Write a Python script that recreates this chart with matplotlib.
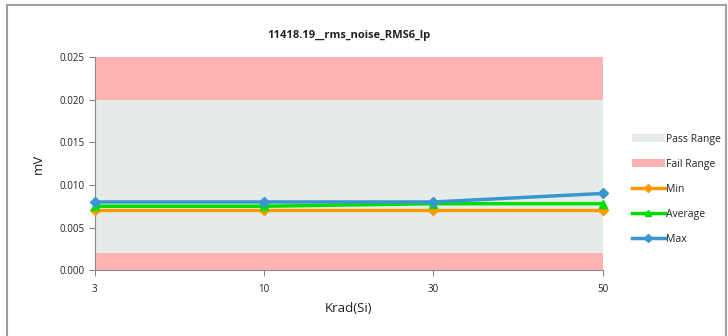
import matplotlib
matplotlib.use("Agg")
import matplotlib.pyplot as plt
from matplotlib.patches import Rectangle, Patch
from matplotlib.lines import Line2D

# === DATA ===
krad_labels = ["3", "10", "30", "50"]
min_vals = [0.0070, 0.0070, 0.0070, 0.0070]
avg_vals = [0.0075, 0.0075, 0.0078, 0.0078]
max_vals = [0.0080, 0.0080, 0.0080, 0.0090]
fail_low = [0.002, 0.002, 0.002, 0.002]
pass_high = [0.020, 0.020, 0.020, 0.020]
fail_high = [0.025, 0.025, 0.025, 0.025]
y_ticks = [0.000, 0.005, 0.010, 0.015, 0.020, 0.025]

PASS_C = "#e5ebeb"
FAIL_C = "#ffb3b3"
MIN_C = "#ff9900"
AVG_C = "#00dd00"
MAX_C = "#3a96cf"
TXT = "#222222"

plt.rcParams['font.family'] = ['Open Sans', 'DejaVu Sans']

fig = plt.figure(figsize=(7.28, 3.36), dpi=100)
fig.patches.append(Rectangle((0.010, -0.01), 0.987, 0.995, transform=fig.transFigure,
                             fill=False, edgecolor="#a0a0a0", linewidth=1.5))

ax = fig.add_axes([0.130, 0.196, 0.698, 0.634])
x = list(range(len(krad_labels)))

# stacked range bands (Excel-style area)
ax.fill_between(x, 0, fail_low, color=FAIL_C, linewidth=0)
ax.fill_between(x, fail_low, pass_high, color=PASS_C, linewidth=0)
ax.fill_between(x, pass_high, fail_high, color=FAIL_C, linewidth=0)

ax.plot(x, min_vals, color=MIN_C, lw=2.5, marker="D", ms=5, clip_on=False, zorder=3)
ax.plot(x, avg_vals, color=AVG_C, lw=2.5, marker="^", ms=6, clip_on=False, zorder=4)
ax.plot(x, max_vals, color=MAX_C, lw=2.5, marker="D", ms=5, clip_on=False, zorder=5)

ax.set_xlim(0, len(x) - 1)
ax.set_ylim(0, 0.025)
ax.set_xticks(x)
ax.set_xticklabels(krad_labels)
ax.set_yticks(y_ticks)
ax.set_yticklabels([f"{v:.3f}" for v in y_ticks])
ax.tick_params(axis="both", labelsize=7, colors="#888888", labelcolor=TXT, length=4)
ax.tick_params(axis="x", pad=6)
for s in ["top", "right"]:
    ax.spines[s].set_visible(False)
for s in ["left", "bottom"]:
    ax.spines[s].set_color("#888888")

ax.set_title("11418.19__rms_noise_RMS6_lp", fontsize=8, fontweight="bold", color=TXT, pad=14)
ax.set_xlabel("Krad(Si)", fontsize=9.5, color=TXT, labelpad=5)
ax.set_ylabel("mV", fontsize=9.5, color=TXT, labelpad=10)

handles = [
    Patch(facecolor=PASS_C, edgecolor="none"),
    Patch(facecolor=FAIL_C, edgecolor="none"),
    Line2D([], [], color=MIN_C, lw=2.5, marker="D", ms=4),
    Line2D([], [], color=AVG_C, lw=2.5, marker="^", ms=5),
    Line2D([], [], color=MAX_C, lw=2.5, marker="D", ms=4),
]
labels = ["Pass Range", "Fail Range", "Min", "Average", "Max"]
fig.legend(handles, labels, loc="upper left", bbox_to_anchor=(0.855, 0.63),
           frameon=False, fontsize=7.5, handlelength=3.2, handletextpad=0.1,
           labelspacing=1.35, labelcolor=TXT)

fig.savefig("out.png", dpi=100)
